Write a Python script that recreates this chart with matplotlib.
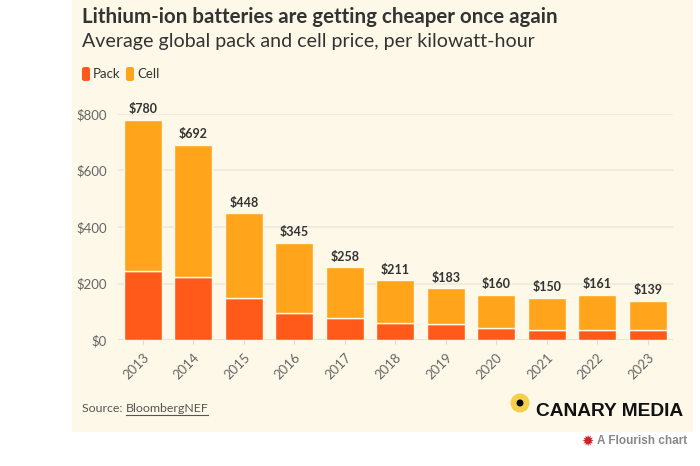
import matplotlib
matplotlib.use("Agg")
import matplotlib.pyplot as plt
from matplotlib.patches import Rectangle, FancyBboxPatch, Ellipse
from matplotlib.transforms import ScaledTranslation
import numpy as np

years = ["2013", "2014", "2015", "2016", "2017", "2018", "2019", "2020", "2021", "2022", "2023"]
totals = [780, 692, 448, 345, 258, 211, 183, 160, 150, 161, 139]
pack = [244, 223, 150, 94, 77, 59, 56, 41, 36, 35, 34]
cell = [536, 469, 298, 251, 181, 152, 127, 119, 114, 126, 105]
yticks = [0, 200, 400, 600, 800]
ytick_labels = ["$0", "$200", "$400", "$600", "$800"]

PACK_C = "#FF5A19"
CELL_C = "#FFA41B"
BG = "#FDF8E7"
TXT = "#333333"
GREY = "#666666"

W, H = 700, 466
fig = plt.figure(figsize=(7, 4.66), dpi=100)
fig.patch.set_facecolor("white")

def fx(px):
    return px / W

def fy(py):
    return 1 - py / H

# yellow panel
fig.patches.append(Rectangle((fx(72), fy(432)), fx(693) - fx(72), fy(0) - fy(432),
                             transform=fig.transFigure, facecolor=BG, edgecolor="none", zorder=-5))

FONT = "Lato"

fig.text(fx(82), fy(17), "Lithium-ion batteries are getting cheaper once again",
         fontsize=14.8, fontweight="bold", color=TXT, family=FONT, va="center", ha="left")
fig.text(fx(82), fy(41), "Average global pack and cell price, per kilowatt-hour",
         fontsize=14.1, color=TXT, family=FONT, va="center", ha="left")

# legend
for x0, col, lab in [(82, PACK_C, "Pack"), (126, CELL_C, "Cell")]:
    fig.patches.append(FancyBboxPatch((fx(x0), fy(81)), fx(8), fy(67) - fy(81),
                                      boxstyle="round,pad=0,rounding_size=0.004",
                                      transform=fig.transFigure, facecolor=col, edgecolor="none"))
    fig.text(fx(x0 + 11), fy(74), lab, fontsize=9.5, color=TXT, family=FONT, va="center", ha="left")

ax = fig.add_axes([fx(117.8), fy(340), fx(672.9) - fx(117.8), fy(114) - fy(340)])
ax.set_facecolor("none")
ax.set_zorder(2)
x = np.arange(len(years))
bw = 0.753
ax.bar(x, pack, width=bw, color=PACK_C, edgecolor=BG, linewidth=1.0, zorder=3)
ax.bar(x, cell, width=bw, bottom=pack, color=CELL_C, edgecolor=BG, linewidth=1.0, zorder=3)

for xi, t in zip(x, totals):
    ax.annotate(f"${t}", (xi, t), xytext=(0, 3.2), textcoords="offset points",
                ha="center", va="bottom", fontsize=9, fontweight="bold", color=TXT, family=FONT)

ax.set_xlim(-0.5, len(years) - 0.5)
ax.set_ylim(0, 800)
ax.set_yticks(yticks)
ax.set_yticklabels(ytick_labels, family=FONT, fontsize=9.5, color=GREY)
ax.set_xticks(x)
ax.set_xticklabels(years, rotation=45, ha="right", rotation_mode="anchor",
                   family=FONT, fontsize=9.5, color=GREY)
off = ScaledTranslation(5 / 100, -4 / 100, fig.dpi_scale_trans)
for lab in ax.get_xticklabels():
    lab.set_transform(lab.get_transform() + off)
ax.tick_params(axis="y", length=0, pad=8)
ax.tick_params(axis="x", length=3, width=0.8, color="#DDD8C8", pad=5)
ax.grid(axis="y", color="#EEEADB", linewidth=1.2, zorder=0)
ax.set_axisbelow(True)
for s in ax.spines.values():
    s.set_visible(False)
ax.axhline(0, color="#E6E2D3", linewidth=1.2, zorder=1)

# source
renderer = fig.canvas.get_renderer()
t1 = fig.text(fx(82), fy(408), "Source: ", fontsize=8.9, color="#555555", family=FONT,
              va="center", ha="left")
bb = t1.get_window_extent(renderer)
t2 = fig.text(bb.x1 / W, fy(408), "BloombergNEF", fontsize=8.9, color="#555555", family=FONT,
              va="center", ha="left")
bb2 = t2.get_window_extent(renderer)
fig.lines.append(plt.Line2D([bb2.x0 / W, bb2.x1 / W], [fy(415), fy(415)], transform=fig.transFigure,
                            color="#555555", linewidth=0.8))

# logo
fig.patches.append(Ellipse((fx(520), fy(403)), 19 / W, 19 / H, transform=fig.transFigure,
                           facecolor="#F5CF47", edgecolor="none"))
fig.patches.append(Ellipse((fx(520), fy(403)), 7 / W, 7 / H, transform=fig.transFigure,
                           facecolor="black", edgecolor="none"))
fig.text(fx(683), fy(411), "CANARY MEDIA", fontsize=13.8, fontweight="bold", color="#111111",
         family="Liberation Sans", va="center", ha="right")

# flourish
fig.text(fx(687), fy(441), "A Flourish chart", fontsize=8.5, fontweight="bold", color="#888888",
         family="Liberation Sans", va="center", ha="right")
fig.text(fx(588), fy(441), "\u2739", fontsize=10.5, color="#D0202A",
         family="DejaVu Sans", va="center", ha="center")

fig.savefig("out.png", dpi=100, facecolor="white")
